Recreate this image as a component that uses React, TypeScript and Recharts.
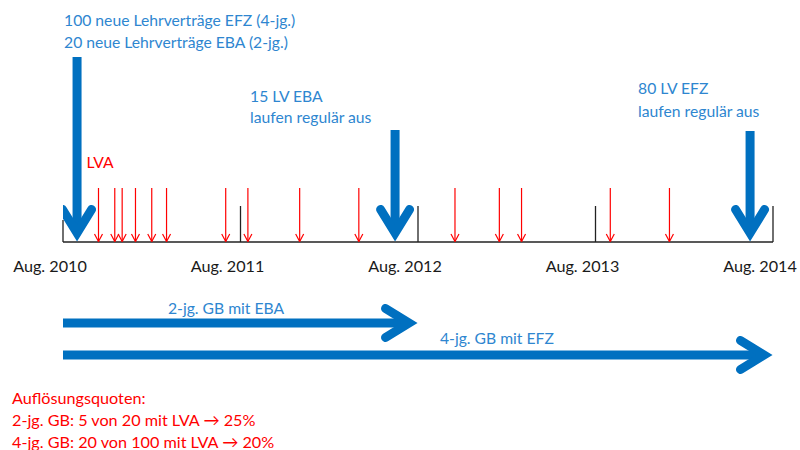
import React from 'react';
import { ComposedChart, XAxis, YAxis, Scatter, ReferenceLine } from 'recharts';

// ---------- data ----------
const yearTicks = [0, 12, 24, 36, 48];
const yearLabels = ['Aug. 2010', 'Aug. 2011', 'Aug. 2012', 'Aug. 2013', 'Aug. 2014'];
const lvaMonths = [2.4, 3.5, 4.0, 4.9, 6.0, 7.0, 11.0, 12.5, 16.0, 20.0, 26.5, 29.5, 31.0, 37.0, 41.0];
const lvaLabel = 'LVA';
const milestoneMonths = [0.95, 22.45, 46.45];
const milestoneTexts = [
  ['100 neue Lehrverträge EFZ (4-jg.)', '20 neue Lehrverträge EBA (2-jg.)'],
  ['15 LV EBA', 'laufen regulär aus'],
  ['80 LV EFZ', 'laufen regulär aus'],
];
const programLabels = ['2-jg. GB mit EBA', '4-jg. GB mit EFZ'];
const programStart = [0, 0];
const programEnd = [24, 48];
const summaryLines = [
  'Auflösungsquoten:',
  '2-jg. GB: 5 von 20 mit LVA \u2192 25%',
  '4-jg. GB: 20 von 100 mit LVA \u2192 20%',
];

// ---------- style / layout ----------
const W = 800;
const H = 450;
const AXIS_Y = 242;
const XAXIS_H = 40;
const BLUE = '#0070C0';
const BLUE_TEXT = '#2E86D0';
const RED = '#FF0000';
const FONT = 'Lato, "Noto Sans", sans-serif';
const FS = 15.7;
const FS_SUM = 16.2;

const milestoneStyle = [
  { len: 185, dx: -13, ys: [-216, -194] },
  { len: 112, dx: -145, ys: [-140, -119] },
  { len: 111, dx: -112, ys: [-148, -125] },
];
const programStyle = [
  { row: -81, labelDx: 105, labelDy: -9 },
  { row: -113, labelDx: 377, labelDy: -11 },
];

const lvaData = lvaMonths.map((m, i) => ({ month: m, y: 0, i }));
const milestoneData = milestoneMonths.map((m, i) => ({ month: m, y: 0, i }));

const RedArrow = (props: any) => {
  const { cx, cy, payload } = props;
  return (
    <g>
      <line x1={cx} y1={cy - 54} x2={cx} y2={cy - 0.5} stroke={RED} strokeWidth={1.2} />
      <polyline
        points={`${cx - 4},${cy - 8} ${cx},${cy - 0.5} ${cx + 4},${cy - 8}`}
        fill="none"
        stroke={RED}
        strokeWidth={1.2}
      />
      {payload.i === 0 && (
        <text x={cx - 12} y={cy - 74} fill={RED} fontFamily={FONT} fontSize={FS}>
          {lvaLabel}
        </text>
      )}
    </g>
  );
};

const BlueArrow = (props: any) => {
  const { cx, cy, payload } = props;
  const st = milestoneStyle[payload.i];
  const lines = milestoneTexts[payload.i];
  const v = cy - 9;
  return (
    <g>
      <line x1={cx} y1={cy - st.len} x2={cx} y2={v - 2} stroke={BLUE} strokeWidth={9} />
      <polyline
        points={`${cx - 14.5},${v - 23.5} ${cx},${v} ${cx + 14.5},${v - 23.5}`}
        fill="none"
        stroke={BLUE}
        strokeWidth={9}
        strokeLinecap="round"
        strokeMiterlimit={10}
      />
      {lines.map((t, k) => (
        <text key={k} x={cx + st.dx} y={cy + st.ys[k]} fill={BLUE_TEXT} fontFamily={FONT} fontSize={FS}>
          {t}
        </text>
      ))}
    </g>
  );
};

const makeProgramShape = (idx: number) => (p: any) => {
  const { x1, y1, x2 } = p;
  const st = programStyle[idx];
  const v = x2 - 9;
  return (
    <g>
      <line x1={x1} y1={y1} x2={v - 2} y2={y1} stroke={BLUE} strokeWidth={9} />
      <polyline
        points={`${v - 23.5},${y1 - 14.5} ${v},${y1} ${v - 23.5},${y1 + 14.5}`}
        fill="none"
        stroke={BLUE}
        strokeWidth={9}
        strokeLinecap="round"
        strokeMiterlimit={10}
      />
      <text x={x1 + st.labelDx} y={y1 + st.labelDy} fill={BLUE_TEXT} fontFamily={FONT} fontSize={FS}>
        {programLabels[idx]}
      </text>
    </g>
  );
};

const YearTick = (props: any) => {
  const { x, y, payload, index } = props;
  const i = yearTicks.indexOf(payload.value);
  return (
    <g>
      <line x1={x} y1={y} x2={x} y2={y - (index === 0 ? 22 : 36)} stroke="#222" strokeWidth={1.3} />
      <text x={x - 13} y={y + 30} textAnchor="middle" fill="#1a1a1a" fontFamily={FONT} fontSize={FS_SUM}>
        {yearLabels[i]}
      </text>
    </g>
  );
};

export default function App() {
  return (
    <div style={{ position: 'absolute', left: 0, top: 0, width: W, height: H, background: '#fff' }}>
      <ComposedChart
        width={W}
        height={H}
        margin={{ top: 0, right: 27, left: 63, bottom: H - AXIS_Y - XAXIS_H }}
      >
        <XAxis
          type="number"
          dataKey="month"
          domain={[0, 48]}
          ticks={yearTicks}
          height={XAXIS_H}
          tickSize={0}
          tickMargin={0}
          tickLine={false}
          axisLine={{ stroke: '#222', strokeWidth: 1.5 }}
          tick={<YearTick />}
          interval={0}
          allowDataOverflow
        />
        <YAxis type="number" dataKey="y" hide domain={[0, AXIS_Y]} allowDataOverflow />
        {programStart.map((s, i) => (
          <ReferenceLine
            key={i}
            segment={[
              { x: s, y: programStyle[i].row },
              { x: programEnd[i], y: programStyle[i].row },
            ]}
            ifOverflow="visible"
            shape={makeProgramShape(i)}
          />
        ))}
        <Scatter data={lvaData} shape={RedArrow} isAnimationActive={false} />
        <Scatter data={milestoneData} shape={BlueArrow} isAnimationActive={false} />
      </ComposedChart>
      <div
        style={{
          position: 'absolute',
          left: 12,
          top: 387,
          color: RED,
          fontFamily: FONT,
          fontSize: FS_SUM,
          lineHeight: '22px',
          whiteSpace: 'nowrap',
        }}
      >
        {summaryLines.map((t, k) => (
          <div key={k}>{t}</div>
        ))}
      </div>
    </div>
  );
}
